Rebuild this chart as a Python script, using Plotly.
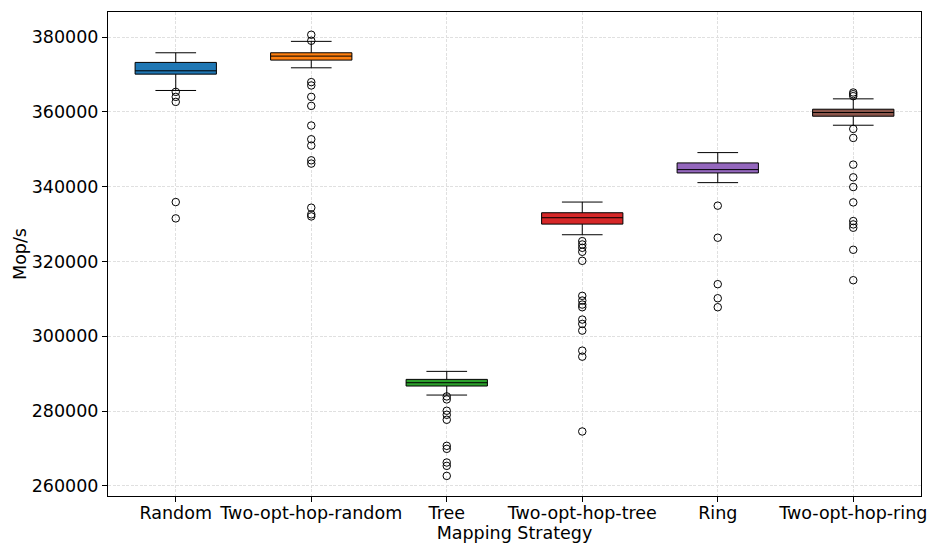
import plotly.graph_objects as go

categories = ["Random", "Two-opt-hop-random", "Tree", "Two-opt-hop-tree", "Ring", "Two-opt-hop-ring"]
colors = ["#1f77b4", "#ff7f0e", "#2ca02c", "#d62728", "#9467bd", "#8c564b"]

lower_whisker = [365720, 371780, 284290, 327150, 341080, 356430]
q1 = [370090, 373840, 286700, 329990, 343670, 358840]
median = [370980, 374910, 287590, 331700, 344560, 359830]
q3 = [373220, 375800, 288480, 333030, 346350, 360710]
upper_whisker = [375800, 378850, 290620, 335890, 349110, 363480]

outliers_random = [365350, 364010, 362670, 335890, 331520]
outliers_two_opt_random = [380620, 379010, 367950, 367060, 364010, 361600, 356350, 352680,
                           350990, 347050, 346170, 334380, 332590, 332050]
outliers_tree = [283920, 283120, 280090, 279020, 277680, 270710, 269910, 266250, 265360, 262680]
outliers_two_opt_tree = [325440, 324550, 323660, 322590, 320180, 310810, 309550, 308480,
                         307770, 304470, 303310, 301520, 296160, 294550, 274550]
outliers_ring = [334920, 326350, 313930, 310170, 307770]
outliers_two_opt_ring = [365180, 364730, 364200, 355440, 353030, 345900, 342500, 339900,
                         335800, 330800, 329910, 329020, 323130, 314990]

outliers = [outliers_random, outliers_two_opt_random, outliers_tree,
            outliers_two_opt_tree, outliers_ring, outliers_two_opt_ring]

fig = go.Figure()
for i, cat in enumerate(categories):
    fig.add_trace(go.Box(
        x=[cat], q1=[q1[i]], median=[median[i]], q3=[q3[i]],
        lowerfence=[lower_whisker[i]], upperfence=[upper_whisker[i]],
        width=0.6, whiskerwidth=0.5, fillcolor=colors[i],
        line=dict(color="black", width=1), boxpoints=False, showlegend=False,
    ))
    fig.add_trace(go.Scatter(
        x=[cat] * len(outliers[i]), y=outliers[i], mode="markers",
        marker=dict(symbol="circle-open", size=7.5, color="black", line=dict(width=1)),
        showlegend=False,
    ))

font = dict(family="DejaVu Sans", size=17.5, color="black")
fig.update_layout(
    width=930, height=545,
    margin=dict(l=108, r=9, t=12, b=49),
    plot_bgcolor="white", paper_bgcolor="white",
    font=font,
)
fig.update_xaxes(
    type="category", categoryorder="array", categoryarray=categories,
    range=[-0.5, 5.5], automargin=False,
    title=dict(text="Mapping Strategy", font=font, standoff=1),
    showline=True, mirror=True, linecolor="black", linewidth=1,
    ticks="outside", ticklen=5, tickcolor="black", ticklabelstandoff=-4,
    showgrid=True, gridcolor="#e0e0e0", griddash="3px,1.5px", gridwidth=0.8,
    tickfont=font,
)
fig.update_yaxes(
    range=[257300, 386700], automargin=False,
    tickvals=[260000, 280000, 300000, 320000, 340000, 360000, 380000],
    ticktext=["260000", "280000", "300000", "320000", "340000", "360000", "380000"],
    title=dict(text="Mop/s", font=font, standoff=0),
    showline=True, mirror=True, linecolor="black", linewidth=1,
    ticks="outside", ticklen=5, tickcolor="black",
    showgrid=True, gridcolor="#e0e0e0", griddash="3px,1.5px", gridwidth=0.8,
    zeroline=False, tickfont=font,
)

fig.write_html(
    "out.html",
    config={"displayModeBar": False},
    post_script="document.body.style.margin='0';document.body.style.overflow='hidden';",
)
